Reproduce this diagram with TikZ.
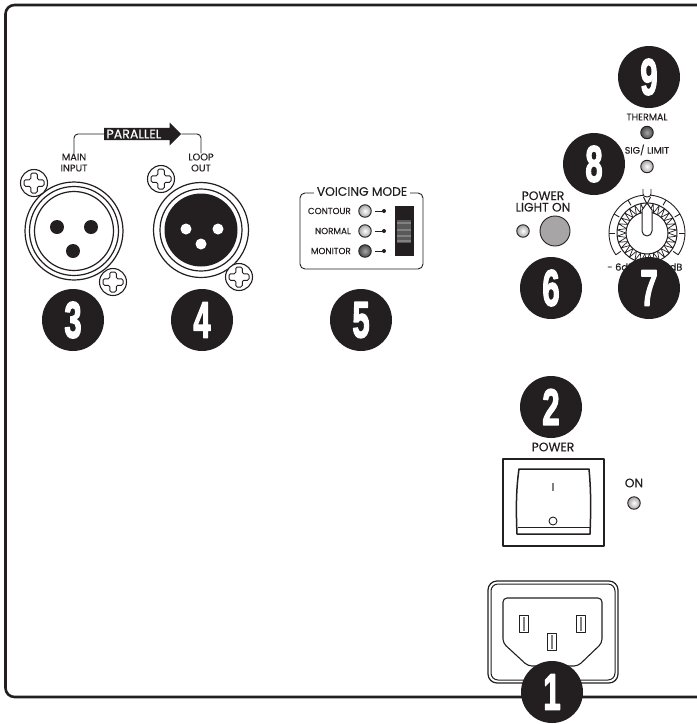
\documentclass[tikz,border=0pt]{standalone}
\usepackage{fontspec}
\setmainfont{Poppins}[FakeBold=0.25]
\newfontfamily\digitfont[BoldFeatures={FakeBold=3}]{Liberation Sans}
\usepackage{xcolor}
\usepackage{tikz}
\usetikzlibrary{arrows.meta,positioning,shapes.arrows,calc}

\definecolor{inkblack}{HTML}{231F20}
\definecolor{ledmid}{HTML}{A7A5A5}

\begin{document}
\begin{tikzpicture}[
   x=1pt, y=-1pt, line join=round, draw=inkblack, text=inkblack,
   badge/.style={circle, fill=inkblack, draw=none, minimum size=62pt, inner sep=0pt,
                 text=white, font=\digitfont\bfseries\fontsize{38}{38}\selectfont},
   label/.style={inner sep=0pt, align=center, font=\fontsize{9.8}{11}\selectfont},
   biglabel/.style={inner sep=0pt, align=center, font=\fontsize{12.3}{11.5}\selectfont},
   led/.style={circle, draw, line width=0.9pt, minimum size=12.5pt, inner sep=0pt,
               shade, inner color=white, outer color=ledmid},
   leddark/.style={led, inner color=ledmid, outer color=black!70},
   screw/.style={circle, draw, fill=white, line width=1.1pt, minimum size=27pt, inner sep=0pt},
   ring/.style={circle, draw, fill=white, line width=1.2pt, inner sep=0pt},
   pin/.style={draw, fill=white, line width=1.4pt, minimum width=9pt, minimum height=17pt, inner sep=0pt}]
  \useasboundingbox (0,0) rectangle (697,724);

  % panel outline
  \draw[line width=2.6pt, rounded corners=9pt] (704,5) -- (5.5,5) -- (5.5,697) -- (704,697);

  % cross head of a screw
  \newcommand{\crosshead}[1]{
    \draw[line width=1pt, rounded corners=1.5pt] ($(#1)+(-3.25,-10)$) -- ++(6.5,0) -- ++(0,6.75) -- ++(6.75,0) -- ++(0,6.5)
      -- ++(-6.75,0) -- ++(0,6.75) -- ++(-6.5,0) -- ++(0,-6.75) -- ++(-6.75,0) -- ++(0,-6.5) -- ++(6.75,0) -- cycle;
  }

  % main input
  \node[ring, minimum size=98pt]  (inring)  at (74,231) {};
  \node[ring, minimum size=89pt]  (inmid)   at (inring.center) {};
  \node[ring, minimum size=79pt]  (inface)  at (inring.center) {};
  \foreach \px/\py in {57/227, 91/227, 73/251}
    \fill[inkblack] (\px,\py) circle (7);
  \node[screw] (inscrewa) at (34,183) {};
  \node[screw] (inscrewb) at (113,282) {};
  \crosshead{inscrewa}
  \crosshead{inscrewb}

  % loop out
  \node[ring, minimum size=95pt]  (outring) at (201,230) {};
  \node[ring, minimum size=82pt]  (outmid)  at (outring.center) {};
  \node[circle, fill=inkblack, minimum size=73pt, inner sep=0pt] (outface) at (outring.center) {};
  \foreach \px/\py in {186/229, 218/229, 201/244}
    \fill[white] (\px,\py) circle (5.5);
  \node[screw] (outscrewa) at (161,179) {};
  \node[screw] (outscrewb) at (239,277) {};
  \crosshead{outscrewa}
  \crosshead{outscrewb}

  % parallel link
  \node[label] (maininput) at (74,162.5) {MAIN\\INPUT};
  \node[label] (loopout)   at (201,162.5) {LOOP\\OUT};
  \node[single arrow, fill=inkblack, draw=none, text=white, inner sep=0pt,
        minimum height=77pt, minimum width=23pt, text width=66pt, align=left,
        single arrow head extend=4pt, single arrow head indent=0pt,
        font=\fontsize{12.6}{12}\selectfont] (parallel) at (139.5,134) {PARALLEL};
  \draw[line width=0.9pt, rounded corners=4pt] (parallel.west) -| (maininput.north);
  \draw[line width=0.9pt, rounded corners=4pt] (parallel.east) -| (loopout.north);

  % voicing mode
  \draw[line width=0.9pt, rounded corners=5pt] (300,193) rectangle (423,269);
  \node[biglabel, fill=white, inner xsep=3pt] (voicing) at (362,191.5) {VOICING MODE};
  \foreach \name/\txt/\ypos/\sty in {contour/CONTOUR/211/led, normal/NORMAL/231/led, monitor/MONITOR/251/leddark} {
    \node[label, anchor=east, font=\fontsize{8.8}{10}\selectfont] (\name) at (351,\ypos) {\txt};
    \node[\sty] (\name led) at (365,\ypos) {};
    \coordinate (\name dot) at (384,\ypos);
    \draw[line width=0.8pt] (\name led.east) ++(3,0) -- (\name dot);
    \fill[inkblack] (\name dot) circle (2);
  }
  \node[draw=none, fill=inkblack, minimum width=19pt, minimum height=50pt, inner sep=0pt] (slider) at (404.5,231) {};
  \fill[black!65] (397,220) rectangle (411,243);
  \foreach \ypos in {223, 230, 236, 241}
    \fill[gray] (397,\ypos-1.3) rectangle (411,\ypos+1.3);

  % status leds
  \node[label, font=\fontsize{9.5}{10}\selectfont] (thermal)   at (647,117) {THERMAL};
  \node[leddark]                                   (thermled)  at (647,132.5) {};
  \node[label, font=\fontsize{9.5}{10}\selectfont] (siglimit)  at (647,150) {SIG/ LIMIT};
  \node[led]                                       (sigled)    at (647,166.5) {};

  % power light
  \node[biglabel] (powerlight) at (543,201.5) {POWER\\LIGHT ON};
  \node[led] (lightled) at (523,231) {};
  \node[circle, draw, line width=0.9pt, fill=ledmid, minimum size=30pt, inner sep=0pt] (lightbtn) at (555,231) {};

  % level knob
  \coordinate (knob) at (647,233);
  \draw[line width=0.9pt] ($(knob)+(145:38)$) arc (145:265:38);
  \draw[line width=0.9pt] ($(knob)+(275:38)$) arc (275:395:38);
  \foreach \ang in {145, 180, 210, 240, 300, 330, 360, 395}
    \draw[line width=0.9pt] ($(knob)+(\ang:38)$) -- ($(knob)+(\ang:32)$);
  \draw[line width=1pt] (knob) circle (30);
  \draw[line width=1pt] (knob) circle (21);
  \foreach \ang in {0,12,...,348} {
    \draw[line width=0.7pt] ($(knob)+(\ang:21)$) -- ($(knob)+(\ang+6:30)$) -- ($(knob)+(\ang+12:21)$);
  }
  \draw[line width=1pt, fill=white] (642,210) -- (647,203) -- (652,210) -- (652,231)
    arc (0:180:5) -- cycle;
  \draw[line width=0.9pt] (643,189) -- (643,194) arc (180:0:4 and 3) -- (651,189);
  \draw[line width=0.9pt] (643.5,197) -- (647,204) -- (650.5,197);
  \node[label, anchor=west] (dbleft)  at (607,267) {- 6dB};
  \node[label, anchor=east] (dbright) at (682.5,267) {+ 6dB};

  % power switch
  \node[biglabel] (powerlabel) at (553,447) {POWER};
  \node[draw, line width=1.2pt, minimum width=101pt, minimum height=87pt, inner sep=0pt] (switchplate) at (553.5,502.5) {};
  \draw[line width=1.5pt] (519,469) -- (589,469) .. controls (591,490) and (591,510) .. (590,534)
    -- (517,534) .. controls (516,510) and (516,490) .. (519,469) -- cycle;
  \draw[line width=0.9pt] (518,527) -- (590,527);
  \draw[line width=1.2pt, gray] (553,483) -- (553,491);
  \node[circle, draw, line width=0.9pt, minimum size=8pt, inner sep=0pt] (offmark) at (553,521) {};
  \node[biglabel] (onlabel) at (634,483) {ON};
  \node[led] (onled) at (634,503) {};

  % mains inlet
  \draw[line width=1.2pt, rounded corners=9pt] (488,581) rectangle (618,683);
  \draw[line width=1pt, rounded corners=7pt] (491,584) rectangle (615,680);
  \draw[line width=1.1pt, rounded corners=4pt] (503,598) -- (602,598) -- (602,643) -- (578,666) -- (528,666) -- (503,643) -- cycle;
  \foreach \name/\px/\py in {pinl/524/624, pinr/581/624, pine/552/642} {
    \node[pin] (\name) at (\px,\py) {};
    \fill[gray] (\px-0.8,\py-7) rectangle (\px+0.8,\py+7);
  }

  % number badges
  \foreach \name/\num/\px/\py in {one/1/552/692, two/2/551/407, three/3/73/320, four/4/202/320,
      five/5/361/320, six/6/551/288, seven/7/649/288, eight/8/594/164, nine/9/649/77}
    \node[badge] (\name) at (\px,\py) {\scalebox{0.82}[1.35]{\num}};
\end{tikzpicture}
\end{document}
